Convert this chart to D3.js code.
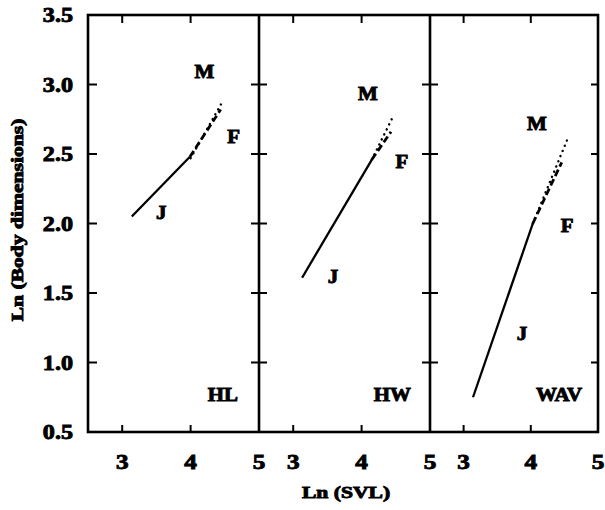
<!DOCTYPE html>
<html>
<head>
<meta charset="utf-8">
<script src="https://cdn.jsdelivr.net/npm/d3@7"></script>
<style>
body { margin: 0; background: #fff; }
text { font-family: "Liberation Serif", "Times New Roman", serif; font-weight: bold; fill: #000; stroke: #000; stroke-width: 0.9px; }
</style>
</head>
<body>
<svg></svg>
<script>
const width = 605;
const height = 510;

const panelNames = ['HL', 'HW', 'WAV'];
const yTicks = [0.5, 1.0, 1.5, 2.0, 2.5, 3.0, 3.5];
const xTicks = [3, 4, 5];

// fitted lines, end points [ln SVL, ln body dimension] for each panel
const juvenile = [[[3.14, 2.05], [3.99, 2.48]], [[3.13, 1.61], [4.15, 2.46]], [[3.14, 0.75], [4.03, 2.0]]];
const female = [[[3.99, 2.48], [4.44, 2.82]], [[4.15, 2.46], [4.43, 2.66]], [[4.03, 2.0], [4.46, 2.44]]];
const male = [[[4.0, 2.47], [4.47, 2.88]], [[4.15, 2.46], [4.46, 2.77]], [[4.03, 2.0], [4.54, 2.6]]];

// where the group letters sit, in data units
const labelM = [[4.2, 3.05], [4.09, 2.89], [4.09, 2.67]];
const labelF = [[4.63, 2.58], [4.59, 2.40], [4.54, 1.94]];
const labelJ = [[3.57, 2.03], [3.58, 1.57], [3.87, 1.16]];
const panelLabelPos = [[4.47, 0.72], [4.45, 0.72], [4.42, 0.72]];

const panelLeft = [88, 259, 430];
const panelRight = [259, 430, 598];
const plotTop = 15, plotBottom = 432;

const svg = d3.select('svg').attr('width', width).attr('height', height);

const y = d3.scaleLinear().domain([0.5, 3.5]).range([plotBottom, plotTop]);
const xs = panelLeft.map((l, i) => d3.scaleLinear().domain([2.5, 5]).range([l, panelRight[i]]));

const line = (x) => d3.line().x(d => x(d[0])).y(d => y(d[1]));

// stretched bold text, like the scanned figure
function addText(g, x, yy, str, size, sx, anchor, rotate) {
  return g.append('text')
    .attr('transform', 'translate(' + x + ',' + yy + ')' + (rotate ? ' rotate(-90)' : '') + ' scale(' + sx + ',1)')
    .attr('text-anchor', anchor)
    .style('font-size', size + 'px')
    .text(str);
}

const linesGroup = svg.append('g');
const axesGroup = svg.append('g');
const labelsGroup = svg.append('g');

panelNames.forEach((name, i) => {
  const x = xs[i];
  linesGroup.append('path').attr('d', line(x)(juvenile[i]))
    .attr('fill', 'none').attr('stroke', '#000').attr('stroke-width', 2.3);
  linesGroup.append('path').attr('d', line(x)(male[i]))
    .attr('fill', 'none').attr('stroke', '#000').attr('stroke-width', 2.4)
    .attr('stroke-linecap', 'round').attr('stroke-dasharray', '0.1,5.5');
  linesGroup.append('path').attr('d', line(x)(female[i]))
    .attr('fill', 'none').attr('stroke', '#000').attr('stroke-width', 2.8)
    .attr('stroke-dasharray', '7,3.5');

  addText(labelsGroup, x(labelM[i][0]), y(labelM[i][1]), 'M', 19, 1.1, 'middle');
  addText(labelsGroup, x(labelF[i][0]), y(labelF[i][1]), 'F', 19, 1.1, 'middle');
  addText(labelsGroup, x(labelJ[i][0]), y(labelJ[i][1]), 'J', 19, 1.1, 'middle');
  addText(labelsGroup, x(panelLabelPos[i][0]), y(panelLabelPos[i][1]), name, 19, 1.1, 'middle');

  // top and bottom inner ticks
  xTicks.slice(0, 2).forEach(t => {
    axesGroup.append('line').attr('x1', x(t)).attr('x2', x(t)).attr('y1', plotTop).attr('y2', plotTop + 8)
      .attr('stroke', '#000').attr('stroke-width', 2);
    axesGroup.append('line').attr('x1', x(t)).attr('x2', x(t)).attr('y1', plotBottom).attr('y2', plotBottom - 7)
      .attr('stroke', '#000').attr('stroke-width', 2);
  });

  xTicks.forEach(t => {
    addText(labelsGroup, x(t), 469, t, 21, 1.2, 'middle');
  });
});

// frame and panel dividers
axesGroup.append('rect')
  .attr('x', panelLeft[0]).attr('y', plotTop)
  .attr('width', panelRight[2] - panelLeft[0]).attr('height', plotBottom - plotTop)
  .attr('fill', 'none').attr('stroke', '#000').attr('stroke-width', 2.6);
[panelLeft[1], panelLeft[2]].forEach(px => {
  axesGroup.append('line').attr('x1', px).attr('x2', px).attr('y1', plotTop).attr('y2', plotBottom)
    .attr('stroke', '#000').attr('stroke-width', 2.6);
});

const innerY = yTicks.slice(1, -1);
innerY.forEach(v => {
  axesGroup.append('line').attr('x1', panelLeft[0]).attr('x2', panelLeft[0] + 9).attr('y1', y(v)).attr('y2', y(v))
    .attr('stroke', '#000').attr('stroke-width', 2);
  [panelLeft[1], panelLeft[2]].forEach(px => {
    axesGroup.append('line').attr('x1', px - 8).attr('x2', px + 8).attr('y1', y(v)).attr('y2', y(v))
      .attr('stroke', '#000').attr('stroke-width', 2);
  });
  axesGroup.append('line').attr('x1', panelRight[2] - 7).attr('x2', panelRight[2]).attr('y1', y(v)).attr('y2', y(v))
    .attr('stroke', '#000').attr('stroke-width', 2);
});

yTicks.forEach(v => {
  addText(labelsGroup, 73, y(v) + 7, v.toFixed(1), 21, 1.15, 'end');
});

addText(labelsGroup, 346, 498, 'Ln (SVL)', 17, 1.27, 'middle');
addText(labelsGroup, 23, 220, 'Ln (Body dimensions)', 17, 1.27, 'middle', true);
</script>
</body>
</html>
